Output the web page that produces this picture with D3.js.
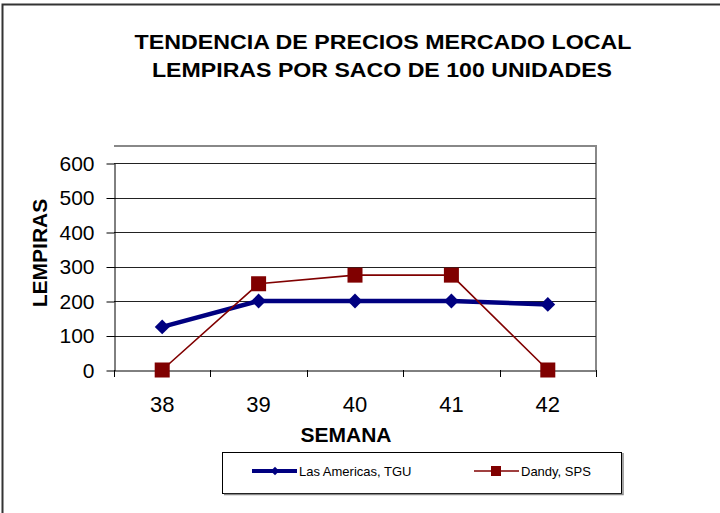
<!DOCTYPE html>
<html>
<head>
<meta charset="utf-8">
<script src="https://cdn.jsdelivr.net/npm/d3@7"></script>
<style>
  body { margin: 0; background: #fff; }
  svg text { font-family: Arial, "Liberation Sans", sans-serif; fill: #000; }
</style>
</head>
<body>
<div id="data-viz"></div>
<script>
// data
var weeks = ["38", "39", "40", "41", "42"]
var lasAmericas = [125, 200, 200, 200, 190]
var dandy = [0, 250, 275, 275, 0]
var yTicks = [0, 100, 200, 300, 400, 500, 600]
var seriesNames = ["Las Americas, TGU", "Dandy, SPS"]

var width = 720, height = 513
var plot = { left: 114, right: 596, top: 146, bottom: 370 }

var svg = d3.select("#data-viz").append("svg")
	.attr("width", width)
	.attr("height", height)

// outer frame
svg.append("path")
	.attr("d", "M2.5," + height + " V4.5 H" + width)
	.attr("fill", "none")
	.attr("stroke", "#333")
	.attr("stroke-width", 2)

var x = d3.scaleBand().domain(weeks).range([plot.left, plot.right])
var y = d3.scaleLinear().domain([0, 600]).range([plot.bottom, 163])

// plot area border (top + right)
svg.append("path")
	.attr("d", "M" + plot.left + "," + plot.top + " H" + plot.right + " V" + plot.bottom)
	.attr("fill", "none")
	.attr("stroke", "#888")
	.attr("stroke-width", 2)

// gridlines
svg.append("g").selectAll("line").data(yTicks.slice(1)).join("line")
	.attr("x1", plot.left).attr("x2", plot.right)
	.attr("y1", d => Math.round(y(d)) + 0.5).attr("y2", d => Math.round(y(d)) + 0.5)
	.attr("stroke", "#222")

// y axis
var yAxis = svg.append("g")
	.attr("transform", "translate(" + (plot.left + 0.5) + ",0.5)")
	.call(d3.axisLeft(y).tickValues(yTicks).tickSize(8).tickPadding(12).tickSizeOuter(0))
yAxis.select(".domain").attr("stroke", "#000")
yAxis.selectAll(".tick line").attr("stroke", "#000")
yAxis.selectAll("text").attr("font-size", 21).attr("font-family", "Arial, 'Liberation Sans', sans-serif")

// x axis
var xAxis = svg.append("g")
	.attr("transform", "translate(0," + (plot.bottom + 0.5) + ")")
	.call(d3.axisBottom(x).tickSize(0).tickPadding(26))
xAxis.select(".domain").attr("stroke", "#000")
xAxis.selectAll("text").attr("font-size", 22).attr("font-family", "Arial, 'Liberation Sans', sans-serif")

// x tick marks on band edges
var edges = weeks.map(d => x(d)).concat([plot.right])
svg.append("g").selectAll("line").data(edges).join("line")
	.attr("x1", d => Math.round(d) + 0.5).attr("x2", d => Math.round(d) + 0.5)
	.attr("y1", plot.bottom).attr("y2", plot.bottom + 7)
	.attr("stroke", "#000")

var cx = d => x(d) + x.bandwidth() / 2

// blue series
var line = d3.line().x((d, i) => cx(weeks[i])).y(d => y(d))
svg.append("path")
	.datum(lasAmericas)
	.attr("d", line)
	.attr("fill", "none")
	.attr("stroke", "#000080")
	.attr("stroke-width", 4.5)

var diamond = d3.symbol().type(d3.symbolDiamond2).size(140)
svg.append("g").selectAll("path").data(lasAmericas).join("path")
	.attr("d", diamond)
	.attr("transform", (d, i) => "translate(" + cx(weeks[i]) + "," + y(d) + ")")
	.attr("fill", "#000080")

// red series
svg.append("path")
	.datum(dandy)
	.attr("d", line)
	.attr("fill", "none")
	.attr("stroke", "#800000")
	.attr("stroke-width", 1.6)

svg.append("g").selectAll("rect").data(dandy).join("rect")
	.attr("x", (d, i) => cx(weeks[i]) - 7.5)
	.attr("y", d => y(d) - 7.5)
	.attr("width", 15).attr("height", 15)
	.attr("fill", "#800000")

// titles
svg.append("text")
	.attr("x", 383).attr("y", 49)
	.attr("text-anchor", "middle")
	.attr("font-size", 21).attr("font-weight", "bold")
	.attr("textLength", 497).attr("lengthAdjust", "spacingAndGlyphs")
	.text("TENDENCIA DE PRECIOS MERCADO LOCAL")
svg.append("text")
	.attr("x", 382).attr("y", 77)
	.attr("text-anchor", "middle")
	.attr("font-size", 21).attr("font-weight", "bold")
	.attr("textLength", 460).attr("lengthAdjust", "spacingAndGlyphs")
	.text("LEMPIRAS POR SACO DE 100 UNIDADES")

svg.append("text")
	.attr("x", 346).attr("y", 442)
	.attr("text-anchor", "middle")
	.attr("font-size", 21).attr("font-weight", "bold")
	.text("SEMANA")

svg.append("text")
	.attr("transform", "translate(47,253) rotate(-90)")
	.attr("text-anchor", "middle")
	.attr("font-size", 21).attr("font-weight", "bold")
	.text("LEMPIRAS")

// legend
var legend = svg.append("g")
legend.append("rect")
	.attr("x", 222.5).attr("y", 452.5).attr("width", 399).attr("height", 41)
	.attr("fill", "#fff").attr("stroke", "#000")
legend.append("path")
	.attr("d", "M224,494.5 H623 V453")
	.attr("fill", "none").attr("stroke", "#888").attr("stroke-width", 1.5)

var legendItems = [
	{ name: seriesNames[0], x: 252, color: "#000080", w: 4, marker: "diamond" },
	{ name: seriesNames[1], x: 474, color: "#800000", w: 1.6, marker: "square" }
]
legendItems.forEach(function (it) {
	legend.append("line")
		.attr("x1", it.x).attr("x2", it.x + 45)
		.attr("y1", 471).attr("y2", 471)
		.attr("stroke", it.color).attr("stroke-width", it.w)
	if (it.marker === "diamond") {
		legend.append("path")
			.attr("d", d3.symbol().type(d3.symbolDiamond2).size(45))
			.attr("transform", "translate(" + (it.x + 23) + ",471)")
			.attr("fill", it.color)
	} else {
		legend.append("rect")
			.attr("x", it.x + 17).attr("y", 466).attr("width", 10).attr("height", 10)
			.attr("fill", it.color)
	}
	legend.append("text")
		.attr("x", it.x + 47).attr("y", 476)
		.attr("font-size", 13)
		.text(it.name)
})
</script>
</body>
</html>
